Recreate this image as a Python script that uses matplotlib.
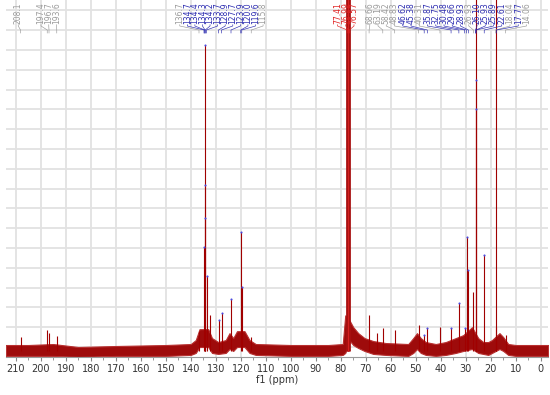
import matplotlib
matplotlib.use("Agg")
import matplotlib.pyplot as plt
import matplotlib.transforms as mtransforms

# ---------------- data ----------------
# peak positions (ppm) and heights (arbitrary intensity, grid units)
peak_ppm = [208.1, 197.4, 196.7, 193.6,
            136.7, 134.7, 134.4, 134.3, 134.2, 133.7, 132.5,
            128.9, 127.7, 123.9, 120.0, 119.6, 115.8,
            68.66, 65.6, 63.19, 58.42, 48.83, 46.62, 45.38, 40.31,
            35.87, 32.75, 30.48, 29.66, 28.93, 26.93, 26.10, 25.93, 25.89,
            22.61, 18.04, 17.77, 14.06]
peak_height = [0.5, 0.85, 0.7, 0.55,
               0.8, 5.05, 8.2, 15.25, 6.5, 3.6, 1.6,
               1.36, 1.73, 2.42, 5.82, 3.05, 0.5,
               1.6, 0.7, 0.95, 0.85, 1.1, 0.6, 0.95, 1.0,
               0.96, 2.24, 0.96, 5.55, 3.9, 2.8, 30.0, 13.5, 12.0,
               4.65, 1.0, 30.0, 0.6]

# solvent (CDCl3) triplet, off scale
solvent_ppm = [77.41, 76.99, 76.57]
solvent_height = [30.0, 30.0, 30.0]

# noise band envelope
band_ppm = [214, 205, 195, 185, 170, 150, 140, 138, 136.5, 133, 131.5, 129, 126,
            124.5, 123, 121.5, 118.5, 116.5, 114, 100, 85, 79.2, 78.2, 76.3, 75,
            73, 70.5, 67, 62, 53, 51, 49.5, 48, 46, 42, 38, 34, 31, 27.5, 25,
            23, 21, 19.5, 16.5, 15, 13, 10, 0, -3]
band_top = [0.1, 0.1, 0.15, 0.0, 0.05, 0.1, 0.15, 0.35, 0.9, 0.9, 0.45, 0.25, 0.35,
            0.7, 0.45, 0.8, 0.8, 0.35, 0.15, 0.1, 0.1, 0.15, 1.6, 1.3, 1.0,
            0.7, 0.45, 0.3, 0.2, 0.15, 0.45, 0.7, 0.45, 0.25, 0.15, 0.25, 0.45, 0.6, 1.0, 0.45,
            0.25, 0.25, 0.35, 0.7, 0.5, 0.15, 0.1, 0.1, 0.1]
band_bot = [-0.45, -0.45, -0.45, -0.5, -0.45, -0.45, -0.4, -0.3, 0.0, 0.0, -0.3, -0.35, -0.3,
            -0.1, -0.2, 0.0, 0.0, -0.3, -0.4, -0.45, -0.45, -0.4, -0.3, 0.3, 0.1,
            -0.05, -0.2, -0.35, -0.4, -0.45, -0.3, -0.1, -0.3, -0.4, -0.45, -0.4, -0.3, -0.2, -0.1, -0.3,
            -0.35, -0.4, -0.3, -0.1, -0.2, -0.4, -0.45, -0.45, -0.45]

# label groups: (label texts, peak ppm, colors)
label_groups = [
    (["208.1"], [208.1], ["g"]),
    (["197.4", "196.7", "193.6"], [197.4, 196.7, 193.6], ["g", "g", "g"]),
    (["136.7", "134.7", "134.4", "134.3", "134.2", "133.7", "128.9", "127.7",
      "123.9", "120.0", "119.6", "115.8"],
     [136.7, 134.7, 134.4, 134.3, 134.2, 133.7, 128.9, 127.7, 123.9, 120.0, 119.6, 115.8],
     ["g", "b", "b", "b", "b", "b", "b", "b", "b", "b", "b", "g"]),
    (["77.41", "76.99", "76.57"], [77.41, 76.99, 76.57], ["r", "r", "r"]),
    (["68.66", "63.19", "58.42", "48.83", "46.62", "45.38", "40.31", "35.87",
      "32.75", "30.48", "29.66", "28.93", "26.93", "26.10", "25.93", "25.89",
      "22.61", "18.04", "17.77", "14.06"],
     [68.66, 63.19, 58.42, 48.83, 46.62, 45.38, 40.31, 35.87, 32.75, 30.48,
      29.66, 28.93, 26.93, 26.10, 25.93, 25.89, 22.61, 18.04, 17.77, 14.06],
     ["g", "g", "g", "g", "b", "b", "g", "b", "b", "b", "b", "b", "g", "b",
      "b", "b", "b", "g", "b", "g"]),
]
# label layout: first label position (ppm) and spacing (ppm)
label_layout = [(209.0, 3.0), (199.9, 3.1), (144.4, 3.03), (81.3, 3.3), (68.4, 3.3)]

tick_values = list(range(0, 211, 10))

# ---------------- plot ----------------
W, H = 550, 395
fig = plt.figure(figsize=(W / 100, H / 100), dpi=100)
ax = fig.add_axes([6 / W, (H - 357) / H, 542 / W, 357 / H])
ax.set_xlim(213.9, -2.9)
ax.set_ylim(-0.505, 17.53)

ax.set_xticks(tick_values)
ax.set_xticks(list(range(5, 211, 10)), minor=True)
ax.set_yticks(list(range(0, 18)))
ax.grid(True, which="major", color="#e2e2e2", lw=1.3)
ax.set_axisbelow(True)
ax.tick_params(axis="y", left=False, labelleft=False)
ax.tick_params(axis="x", which="major", direction="out", length=3, width=0.8,
               color="#888888", labelsize=7, labelcolor="#333333", pad=2)
ax.tick_params(axis="x", which="minor", direction="out", length=2, width=0.6,
               color="#888888")
for s in ["top", "left", "right"]:
    ax.spines[s].set_visible(False)
ax.spines["bottom"].set_color("#999999")
ax.spines["bottom"].set_linewidth(0.8)
ax.set_xlabel("f1 (ppm)", fontsize=7, color="#333333", labelpad=1)

red = "#a00000"
ax.fill_between(band_ppm, band_bot, band_top, color="#9e0b0b", lw=0.8,
                edgecolor="#b83030")
ax.vlines(peak_ppm, -0.2, peak_height, color=red, lw=0.8)
ax.vlines(solvent_ppm, -0.2, solvent_height, color="#a81010", lw=2.0)
ax.vlines(solvent_ppm[1], -0.2, solvent_height[1], color="#d42020", lw=0.8)

# blue markers at picked peak tops
bx, by = [], []
for texts, ppms, cols in label_groups:
    for p, c in zip(ppms, cols):
        if c == "b" and p in peak_ppm:
            h = peak_height[peak_ppm.index(p)]
            if h < 17:
                bx.append(p)
                by.append(h)
ax.plot(bx, by, "o", ms=1.5, color="#4a4ae0", mec="none", zorder=5)

# labels and connectors
blue = "#2b2bb0"
colmap = {"g": "#9a9a9a", "b": blue, "r": "#e02020"}
trans = mtransforms.blended_transform_factory(ax.transData, ax.transAxes)
y_text = 1 - 24 / 357
y1 = 1 - 26 / 357
y2 = 1 - 30 / 357
y3 = 1 - 33 / 357
for (texts, ppms, cols), (start, step) in zip(label_groups, label_layout):
    for i, (t, p, c) in enumerate(zip(texts, ppms, cols)):
        lx = start - i * step
        color = colmap[c]
        ax.text(lx, y_text, t, transform=trans, rotation=90, ha="center",
                va="bottom", fontsize=5.5, color=color, clip_on=False)
        ax.plot([lx, lx, p, p], [y_text - 0.002, y1, y2, y3], transform=trans,
                color=color, lw=0.45, clip_on=False)

fig.savefig("out.png", dpi=100)
